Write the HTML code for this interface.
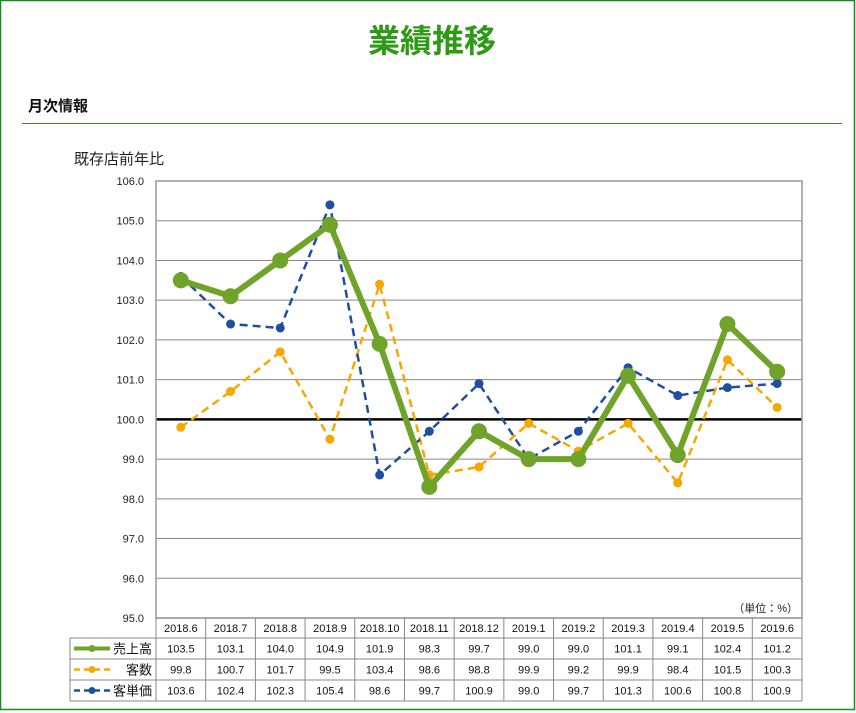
<!DOCTYPE html>
<html><head><meta charset="utf-8"><style>
body{margin:0;width:856px;height:713px;background:#fff;overflow:hidden}
svg{display:block}
text{font-family:"Liberation Sans","Noto Sans CJK JP",sans-serif}
</style></head><body>
<svg width="856" height="713" viewBox="0 0 856 713" xmlns="http://www.w3.org/2000/svg">
<rect x="0.5" y="0.5" width="854" height="709" fill="#fff" stroke="#1a8a1a" stroke-width="1.5"/>
<text x="432" y="52" text-anchor="middle" font-size="32" font-weight="bold" fill="#2e9a16">業績推移</text>
<text x="28" y="111" font-size="15" font-weight="bold" fill="#111">月次情報</text>
<line x1="22" y1="123.5" x2="842" y2="123.5" stroke="#3a8a2a" stroke-width="1"/>
<text x="74" y="164" font-size="15" fill="#222">既存店前年比</text>
<g id="g"></g>
</svg>
<script>
const s=document.querySelector('svg'),NS='http://www.w3.org/2000/svg';
function el(t,a,txt){const e=document.createElementNS(NS,t);for(const k in a)e.setAttribute(k,a[k]);if(txt!=null)e.textContent=txt;s.appendChild(e);return e;}
const L=156,R=802,T=181,B=618,Y=v=>T+(106-v)*(B-T)/11;
for(let v=95;v<=106;v++){const y=Y(v);el('line',{x1:L,x2:R,y1:y,y2:y,stroke:v==100?'#000':'#888','stroke-width':v==100?2.5:1});el('text',{x:144,y:y+4,'text-anchor':'end','font-size':11,fill:'#222'},v.toFixed(1));}
el('rect',{x:L,y:T,width:R-L,height:B-T,fill:'none',stroke:'#999','stroke-width':1.5});
const cats=['2018.6','2018.7','2018.8','2018.9','2018.10','2018.11','2018.12','2019.1','2019.2','2019.3','2019.4','2019.5','2019.6'];
const d1=[103.5,103.1,104.0,104.9,101.9,98.3,99.7,99.0,99.0,101.1,99.1,102.4,101.2];
const d2=[99.8,100.7,101.7,99.5,103.4,98.6,98.8,99.9,99.2,99.9,98.4,101.5,100.3];
const d3=[103.6,102.4,102.3,105.4,98.6,99.7,100.9,99.0,99.7,101.3,100.6,100.8,100.9];
const w=(R-L)/13,X=i=>L+w*(i+.5);
function series(d,c,sw,dash,r){el('polyline',{points:d.map((v,i)=>X(i)+','+Y(v)).join(' '),fill:'none',stroke:c,'stroke-width':sw,'stroke-dasharray':dash||'','stroke-linejoin':'round'});d.forEach((v,i)=>el('circle',{cx:X(i),cy:Y(v),r:r,fill:c}));}
series(d2,'#f7a800',2.5,'8,5',4.5);
series(d3,'#1f4fa0',2.5,'8,5',4.5);
series(d1,'#6fa329',6,'',8);
el('text',{x:798,y:612,'text-anchor':'end','font-size':11,fill:'#222'},'（単位：%）');
// table
const rows=[618,638,659,680,701];
el('line',{x1:L,x2:R,y1:rows[0],y2:rows[0],stroke:'#888'});
for(let r=1;r<5;r++)el('line',{x1:70,x2:R,y1:rows[r],y2:rows[r],stroke:'#888'});
el('line',{x1:70,x2:70,y1:rows[1],y2:rows[4],stroke:'#888'});
for(let i=0;i<=13;i++)el('line',{x1:L+w*i,x2:L+w*i,y1:rows[0],y2:rows[4],stroke:'#888'});
cats.forEach((c,i)=>el('text',{x:X(i),y:632,'text-anchor':'middle','font-size':11,fill:'#111'},c));
[[d1,'売上高','#6fa329',''],[d2,'客数','#f7a800','6,4'],[d3,'客単価','#1f4fa0','6,4']].forEach(([d,n,c,da],r)=>{
 const cy=(rows[r+1]+rows[r+2])/2;
 el('line',{x1:74,x2:110,y1:cy,y2:cy,stroke:c,'stroke-width':r==0?4:2.5,'stroke-dasharray':da});
 el('circle',{cx:92,cy:cy,r:3.5,fill:c});
 el('text',{x:152,y:cy+5,'text-anchor':'end','font-size':13,fill:'#111'},n);
 d.forEach((v,i)=>el('text',{x:X(i),y:cy+4,'text-anchor':'middle','font-size':11,fill:'#111'},v.toFixed(1)));
});
</script>
</body></html>
